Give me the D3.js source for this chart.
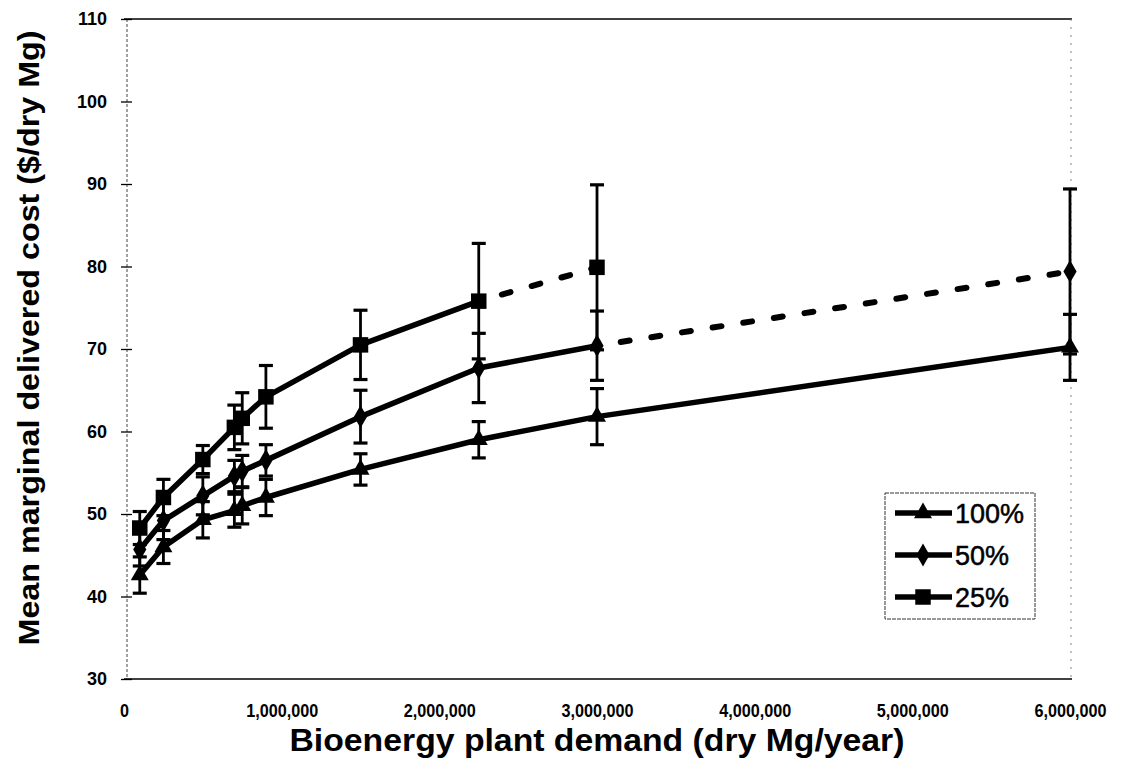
<!DOCTYPE html>
<html>
<head>
<meta charset="utf-8">
<script src="https://cdn.jsdelivr.net/npm/d3@7"></script>
<style>
  body { margin: 0; background: #fff; }
  text { font-family: "Liberation Sans", Arial, sans-serif; fill: #000; }
</style>
</head>
<body>
<div id="chart"></div>
<script>
// data
var demand = [100000, 250000, 500000, 700000, 750000, 900000, 1500000, 2250000, 3000000, 6000000];
var cost100 = [42.6, 46.0, 49.3, 50.4, 51.0, 52.0, 55.4, 59.0, 61.8, 70.2];
var err100  = [2.2, 2.0, 2.2, 2.0, 2.2, 2.2, 1.9, 2.2, 3.4, 4.0];
var cost50  = [45.7, 49.2, 52.2, 54.6, 55.2, 56.5, 61.8, 67.7, 70.4, 79.4];
var err50   = [2.0, 2.3, 2.3, 1.9, 1.9, 1.9, 3.2, 4.2, 4.2, 10.0];
var cost25  = [48.3, 52.0, 56.6, 60.5, 61.6, 64.2, 70.5, 75.8, 79.9, null];
var err25   = [2.0, 2.2, 1.7, 2.7, 3.1, 3.8, 4.2, 7.0, 10.0, null];
// last x of the solid part, rest is dashed
var solidEnd = {"100%": 6000000, "50%": 3000000, "25%": 2250000};
var seriesNames = ["100%", "50%", "25%"];
var xTicks = [0, 1000000, 2000000, 3000000, 4000000, 5000000, 6000000];
var yTicks = [30, 40, 50, 60, 70, 80, 90, 100, 110];

var width = 1126, height = 779;
var svg = d3.select("#chart").append("svg")
    .attr("width", width)
    .attr("height", height);

var x = d3.scaleLinear().domain([0, 6000000]).range([124, 1070]);
var y = d3.scaleLinear().domain([30, 110]).range([679, 19]);

// frame: solid top/bottom, dotted sides
svg.append("line").attr("x1", 124).attr("x2", 1072).attr("y1", y(110)).attr("y2", y(110))
  .attr("stroke", "#000").attr("stroke-width", 1.6);
svg.append("line").attr("x1", 124).attr("x2", 1072).attr("y1", y(30)).attr("y2", y(30))
  .attr("stroke", "#000").attr("stroke-width", 1.6);
svg.append("line").attr("x1", 127).attr("x2", 127).attr("y1", y(110)).attr("y2", y(30))
  .attr("stroke", "#444").attr("stroke-width", 1).attr("stroke-dasharray", "3,2");
svg.append("line").attr("x1", 1071).attr("x2", 1071).attr("y1", y(110)).attr("y2", y(30))
  .attr("stroke", "#888").attr("stroke-width", 1).attr("stroke-dasharray", "2,6");

// y axis
var yAxis = svg.append("g")
  .attr("transform", "translate(127,0)")
  .call(d3.axisLeft(y).tickValues(yTicks).tickSize(6).tickSizeOuter(0).tickPadding(14));
yAxis.select(".domain").remove();
yAxis.selectAll("line").attr("x2", -6).attr("x1", 5).attr("stroke-width", 1.3);
yAxis.selectAll("text")
  .style("font-size", "18px").style("font-weight", "bold")
  .style("font-family", "'Liberation Sans', Arial, sans-serif");

// x axis
var xAxis = svg.append("g")
  .attr("transform", "translate(0," + y(30) + ")")
  .call(d3.axisBottom(x).tickValues(xTicks).tickSize(0).tickPadding(25)
    .tickFormat(d3.format(",")));
xAxis.select(".domain").remove();
xAxis.selectAll("text")
  .style("font-size", "18px").style("font-weight", "bold")
  .style("font-family", "'Liberation Sans', Arial, sans-serif")
  .each(function(){
    var w = this.getComputedTextLength();
    d3.select(this).attr("textLength", w * 0.9).attr("lengthAdjust", "spacingAndGlyphs");
  });

// axis titles
svg.append("text")
  .attr("x", 597).attr("y", 751)
  .attr("text-anchor", "middle")
  .style("font-size", "31px").style("font-weight", "bold")
  .attr("textLength", 615).attr("lengthAdjust", "spacingAndGlyphs")
  .text("Bioenergy plant demand (dry Mg/year)");

svg.append("text")
  .attr("transform", "translate(39,338) rotate(-90)")
  .attr("text-anchor", "middle")
  .style("font-size", "30px").style("font-weight", "bold")
  .attr("textLength", 615).attr("lengthAdjust", "spacingAndGlyphs")
  .text("Mean marginal delivered cost ($/dry Mg)");

function makeSeries(name, vals, errs) {
  var pts = [];
  for (var i = 0; i < demand.length; i++) {
    if (vals[i] != null) pts.push({x: demand[i], v: vals[i], e: errs[i]});
  }
  return {name: name, pts: pts};
}
var series = [
  makeSeries("100%", cost100, err100),
  makeSeries("50%", cost50, err50),
  makeSeries("25%", cost25, err25)
];

var line = d3.line().x(function(d){ return x(d.x); }).y(function(d){ return y(d.v); });

// error bars first, lines and markers on top
series.forEach(function(s){
  var g = svg.append("g");
  s.pts.forEach(function(d){
    var cx = x(d.x);
    g.append("line").attr("x1", cx).attr("x2", cx)
      .attr("y1", y(d.v - d.e)).attr("y2", y(d.v + d.e))
      .attr("stroke", "#000").attr("stroke-width", 2.8);
    [d.v - d.e, d.v + d.e].forEach(function(c){
      g.append("line").attr("x1", cx - 7).attr("x2", cx + 7)
        .attr("y1", y(c)).attr("y2", y(c))
        .attr("stroke", "#000").attr("stroke-width", 3.2);
    });
  });
});

series.forEach(function(s){
  var cut = solidEnd[s.name];
  var solid = s.pts.filter(function(d){ return d.x <= cut; });
  var dashed = s.pts.filter(function(d){ return d.x >= cut; });
  svg.append("path").datum(solid).attr("d", line)
    .attr("fill", "none").attr("stroke", "#000").attr("stroke-width", 5.5)
    .attr("stroke-linejoin", "round");
  if (dashed.length > 1) {
    svg.append("path").datum(dashed).attr("d", line)
      .attr("fill", "none").attr("stroke", "#000").attr("stroke-width", 6)
      .attr("stroke-linecap", "round")
      .attr("stroke-dasharray", "9,22").attr("stroke-dashoffset", -24);
  }
});

var symbols = {"100%": d3.symbolTriangle, "50%": d3.symbolDiamond, "25%": d3.symbolSquare};
var symSize = {"100%": 140, "50%": 150, "25%": 240};

series.forEach(function(s){
  svg.selectAll(null).data(s.pts).enter().append("path")
    .attr("transform", function(d){ return "translate(" + x(d.x) + "," + y(d.v) + ")"; })
    .attr("d", d3.symbol().type(symbols[s.name]).size(symSize[s.name]))
    .attr("fill", "#000");
});

// legend
var lg = svg.append("g").attr("transform", "translate(885,493)");
lg.append("rect").attr("width", 150).attr("height", 126)
  .attr("fill", "#fff").attr("stroke", "#333").attr("stroke-width", 1)
  .attr("stroke-dasharray", "4,1");
seriesNames.forEach(function(n, i){
  var ly = 20 + i * 42;
  lg.append("line").attr("x1", 10).attr("x2", 67).attr("y1", ly).attr("y2", ly)
    .attr("stroke", "#000").attr("stroke-width", 5.5);
  lg.append("path").attr("transform", "translate(38," + ly + ")")
    .attr("d", d3.symbol().type(symbols[n]).size(symSize[n]))
    .attr("fill", "#000");
  lg.append("text").attr("x", 70).attr("y", ly + 10)
    .style("font-size", "27px")
    .style("stroke", "#000").style("stroke-width", 0.5)
    .text(n);
});
</script>
</body>
</html>
